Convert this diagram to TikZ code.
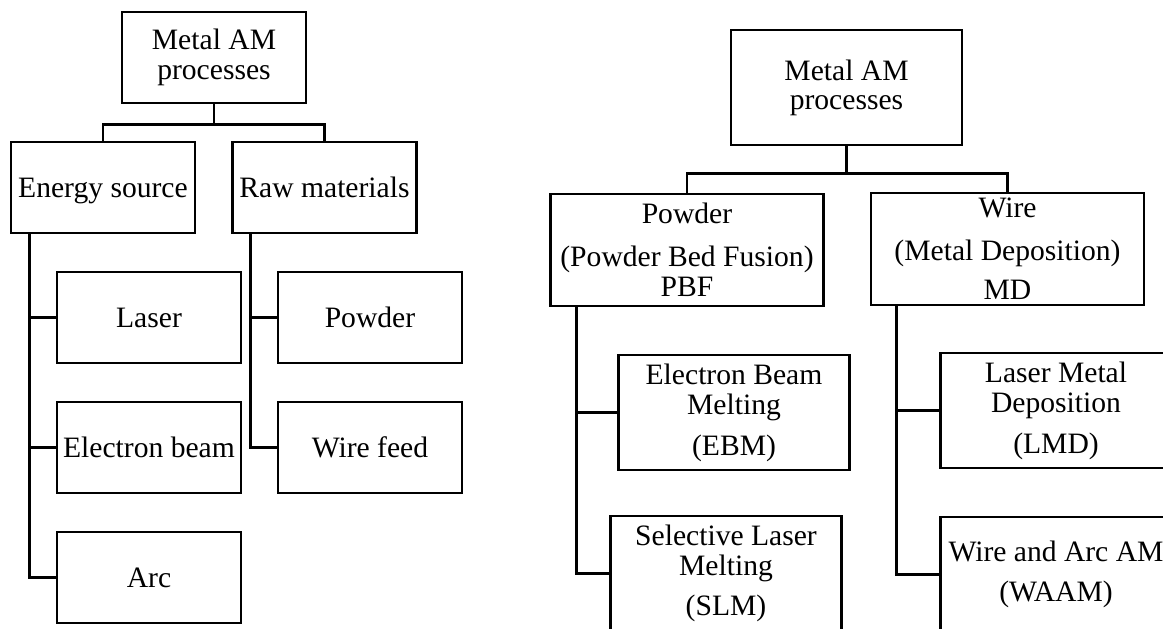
\documentclass[tikz,border=0pt]{standalone}
\usepackage{fontspec}
\setmainfont{Liberation Serif}
\usepackage{tikz}
\newcommand{\boxfont}{\fontsize{14.8}{15}\selectfont}

\begin{document}
\begin{tikzpicture}[
  x=0.5pt, y=-0.5pt,
  conn/.style={line width=1.3pt},
  box/.style={draw, line width=1.3pt, rectangle, inner sep=0pt, align=center, font=\boxfont},
  lbox/.style={box, minimum width=92pt, minimum height=45.5pt},
  rbox/.style={box, minimum width=115.5pt, minimum height=57.5pt},
  widebox/.style={box, minimum width=136.5pt, minimum height=56pt}
]
\useasboundingbox (0,0) rectangle (1163,628);

\node[lbox] (ltop)    at (214, 57.5)  {Metal AM\\processes};
\node[lbox, text depth=0pt] (les)  at (103, 187.5)   {Energy source};
\node[lbox, text depth=0pt] (lraw) at (324.5, 187.5) {Raw materials};
\node[lbox] (laser)   at (149, 317.5) {Laser};
\node[lbox] (lebeam)  at (149, 447.5) {Electron beam};
\node[lbox] (larc)    at (149, 577.5) {Arc};
\node[lbox] (lpowder) at (370, 317.5) {Powder};
\node[lbox] (lwire)   at (370, 447.5) {Wire feed};

\draw[conn] (ltop.south) -- ++(0,20) -| (les.north);
\draw[conn] (ltop.south) -- ++(0,20) -| (lraw.north);
\draw[conn] ([xshift=9.75pt]les.south west) |- (laser.west);
\draw[conn] ([xshift=9.75pt]les.south west) |- (lebeam.west);
\draw[conn] ([xshift=9.75pt]les.south west) |- (larc.west);
\draw[conn] ([xshift=9.75pt]lraw.south west) |- (lpowder.west);
\draw[conn] ([xshift=9.75pt]lraw.south west) |- (lwire.west);

\node[rbox]    (rtop)    at (846.5, 87.5) {Metal AM\\[-0.5pt]processes};
\node[widebox] (rpowder) at (687, 250)    {Powder\\[6.5pt](Powder Bed Fusion)\\PBF};
\node[widebox] (rwire)   at (1007.5, 249) {Wire\\[6.5pt](Metal Deposition)\\[4.5pt]MD};
\node[rbox]    (rebm)    at (734, 412.5)  {Electron Beam\\Melting\\[5.5pt](EBM)};
\node[rbox]    (rslm)    at (726, 573.5)  {Selective Laser\\Melting\\[5pt](SLM)};
\node[rbox]    (rlmd)    at (1056, 410.5) {Laser Metal\\Deposition\\[5.5pt](LMD)};
\node[rbox]    (rwaam)   at (1056, 574.5) {Wire and Arc AM\\[5pt](WAAM)};

\draw[conn] (rtop.south) -- ++(0,27) -| (rpowder.north);
\draw[conn] (rtop.south) -- ++(0,27) -| (rwire.north);
\draw[conn] ([xshift=13.5pt]rpowder.south west) |- (rebm.west);
\draw[conn] ([xshift=13.5pt]rpowder.south west) |- (rslm.west);
\draw[conn] ([xshift=13.5pt]rwire.south west) |- (rlmd.west);
\draw[conn] ([xshift=13.5pt]rwire.south west) |- (rwaam.west);
\end{tikzpicture}
\end{document}
